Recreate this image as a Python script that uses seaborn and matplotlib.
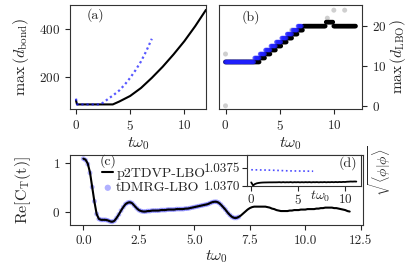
import numpy as np
import pandas as pd
import matplotlib
matplotlib.use("Agg")
import matplotlib.pyplot as plt
import seaborn as sns
from matplotlib.ticker import FormatStrFormatter

# ---------------- data ----------------
# (a) max bond dimension
t_a_p2 = [0.0, 0.1, 1.0, 2.0, 3.0, 3.4, 4.0, 5.0, 6.0, 7.0, 8.0, 9.0, 10.0, 11.0, 12.0]
dbond_p2 = [105, 88, 88, 88, 88, 88, 100, 123, 156, 198, 244, 295, 350, 412, 480]
t_a_td = [0.0, 0.1, 1.0, 2.0, 2.2, 2.5, 3.0, 3.5, 4.0, 4.5, 5.0, 5.5, 6.0, 6.5, 7.0]
dbond_td = [112, 88, 88, 88, 89, 95, 112, 128, 146, 170, 198, 230, 266, 310, 360]

# (b) max LBO dimension: step change times and levels
lbo_td_t = [0.0, 2.7, 3.2, 3.7, 4.2, 4.7, 5.2, 5.7, 6.2, 6.7]
lbo_td_v = [11, 12, 13, 14, 15, 16, 17, 18, 19, 20]
lbo_td_end = 7.0
lbo_p2_t = [0.0, 3.2, 3.7, 4.2, 4.7, 5.2, 5.7, 6.2, 6.7, 7.2, 9.3, 9.95]
lbo_p2_v = [11, 12, 13, 14, 15, 16, 17, 18, 19, 20, 21, 20]
lbo_p2_end = 12.0
gray_t = [0.0, 0.0, 6.1, 9.4, 10.0, 11.0]
gray_v = [13, 0, 19, 22, 24, 24]

# (c) Re[C_T(t)], sampled every 0.1
ct_p2 = [1.08, 1.06, 0.98, 0.80, 0.50, 0.20, -0.05, -0.15, -0.17, -0.17,
         -0.17, -0.18, -0.20, -0.21, -0.19, -0.13, -0.06, 0.02, 0.09, 0.15,
         0.18, 0.19, 0.17, 0.12, 0.07, 0.03, 0.01, 0.00, 0.00, 0.01,
         0.01, 0.02, 0.02, 0.02, 0.02, 0.03, 0.03, 0.03, 0.04, 0.04,
         0.04, 0.04, 0.05, 0.05, 0.05, 0.05, 0.06, 0.06, 0.07, 0.08,
         0.09, 0.10, 0.11, 0.12, 0.13, 0.14, 0.15, 0.17, 0.19, 0.20,
         0.20, 0.18, 0.14, 0.09, 0.04, -0.02, -0.07, -0.11, -0.13, -0.13,
         -0.11, -0.08, -0.04, 0.00, 0.04, 0.07, 0.09, 0.10, 0.10, 0.10,
         0.10, 0.10, 0.10, 0.09, 0.08, 0.06, 0.05, 0.03, 0.02, 0.01,
         0.01, 0.01, 0.01, 0.02, 0.02, 0.03, 0.03, 0.03, 0.04, 0.04,
         0.04, 0.05, 0.05, 0.05, 0.05, 0.06, 0.06, 0.07, 0.07, 0.08,
         0.08, 0.08, 0.08, 0.07, 0.07, 0.06, 0.05, 0.04, 0.03, 0.01,
         0.00]
ct_td = [1.08, 1.05, 0.97, 0.79, 0.50, 0.21, -0.05, -0.15, -0.17, -0.17,
         -0.17, -0.18, -0.20, -0.21, -0.19, -0.13, -0.06, 0.02, 0.09, 0.15,
         0.18, 0.19, 0.17, 0.12, 0.07, 0.03, 0.01, 0.00, 0.00, 0.01,
         0.01, 0.02, 0.02, 0.02, 0.02, 0.03, 0.03, 0.03, 0.04, 0.04,
         0.04, 0.04, 0.05, 0.05, 0.05, 0.05, 0.06, 0.06, 0.07, 0.08,
         0.09, 0.10, 0.11, 0.12, 0.13, 0.14, 0.15, 0.17, 0.19, 0.20,
         0.20, 0.18, 0.14, 0.09, 0.04, -0.02, -0.07, -0.11, -0.13, -0.13,
         -0.11]

# (d) norm, in 1e-6 above 1.037, sampled every 0.2
norm_p2_micro = [90, 5, 45, 65, 75, 82, 86, 88, 89, 90, 91, 91, 92, 92, 93,
                 96, 90, 97, 91, 95, 92, 98, 90, 96, 93, 97, 91, 96, 92, 97,
                 93, 98, 91, 97, 94, 98, 92, 97, 94, 99, 93, 98, 95, 100, 95,
                 101, 96, 102, 98, 104, 101, 108, 110, 114, 112, 115, 113]
norm_td_t = [0.0, 2.0, 4.0, 6.6]
norm_td = [1.03744, 1.03743, 1.03741, 1.03740]

# ---------------- style ----------------
sns.set_style("ticks")
plt.rcParams.update({
    "font.family": "serif",
    "font.serif": ["cmr10", "DejaVu Serif"],
    "mathtext.fontset": "cm",
    "axes.formatter.use_mathtext": True,
    "axes.unicode_minus": False,
    "font.size": 9,
    "axes.labelsize": 11.5,
    "axes.linewidth": 0.8,
    "axes.edgecolor": "#333333",
    "xtick.major.size": 3.5,
    "ytick.major.size": 3.5,
    "xtick.major.width": 0.8,
    "ytick.major.width": 0.8,
    "xtick.labelsize": 9.5,
    "ytick.labelsize": 9.5,
})

fig = plt.figure(figsize=(4.11, 2.65), dpi=100)
W, H = 411, 265
def rect(l, t, r, b):
    return [l / W, 1 - b / H, (r - l) / W, (b - t) / H]

axa = fig.add_axes(rect(70, 5, 206, 109))
axb = fig.add_axes(rect(219, 5, 362, 109))
axc = fig.add_axes(rect(70, 155, 363, 225))
axd = fig.add_axes(rect(247, 155, 361, 186))

blue = "#2020ff"

# (a)
sns.lineplot(x=t_a_p2, y=dbond_p2, ax=axa, color="black", lw=1.5)
sns.lineplot(x=t_a_td, y=dbond_td, ax=axa, color=blue, alpha=0.75, lw=1.6,
             linestyle=(0, (1, 1.3)))
axa.set_xlim(-0.55, 12.0)
axa.set_ylim(69, 500)
axa.set_xticks([0, 5, 10])
axa.set_yticks([200, 400])
axa.set_xlabel(r"$t\omega_0$", labelpad=2)
axa.set_ylabel(r"$\max\,(d_{\rm bond})$", labelpad=6)
axa.text(0.19, 0.90, "(a)", transform=axa.transAxes, ha="center", va="center", fontsize=10)

# (b) expand step levels onto a 0.1 time grid
def steps(tchg, vals, tend):
    tt = np.round(np.arange(0, tend + 1e-9, 0.1), 2)
    idx = np.searchsorted(np.array(tchg), tt, side="right") - 1
    return tt, np.array(vals)[idx]

tb_p2, vb_p2 = steps(lbo_p2_t, lbo_p2_v, lbo_p2_end)
tb_td, vb_td = steps(lbo_td_t, lbo_td_v, lbo_td_end)
sns.scatterplot(x=gray_t, y=gray_v, ax=axb, color="#c4c4c4", s=13, edgecolor="none", alpha=0.8)
sns.scatterplot(x=tb_p2, y=vb_p2, ax=axb, color="black", s=11, edgecolor="none")
sns.scatterplot(x=tb_td, y=vb_td, ax=axb, color=blue, alpha=0.7, s=11, edgecolor="none")
axb.set_xlim(-0.6, 12.6)
axb.set_ylim(-0.8, 25.3)
axb.set_xticks([0, 5, 10])
axb.set_yticks([0, 10, 20])
axb.yaxis.tick_right()
axb.yaxis.set_label_position("right")
axb.set_xlabel(r"$t\omega_0$", labelpad=2)
axb.set_ylabel(r"$\max\,(d_{\rm LBO})$", labelpad=1, fontsize=11)
axb.text(0.22, 0.885, "(b)", transform=axb.transAxes, ha="center", va="center", fontsize=10)

# (c)
tc_p2 = np.round(np.arange(len(ct_p2)) * 0.1, 2)
tc_td = np.round(np.arange(len(ct_td)) * 0.1, 2)
sns.lineplot(x=tc_p2, y=ct_p2, ax=axc, color="black", lw=1.5, label="p2TDVP-LBO")
sns.scatterplot(x=tc_td, y=ct_td, ax=axc, color=blue, alpha=0.35, s=12,
                edgecolor="none", label="tDMRG-LBO")
axc.set_xlim(-0.6, 12.6)
axc.set_ylim(-0.275, 1.155)
axc.set_xticks([0, 2.5, 5, 7.5, 10, 12.5])
axc.xaxis.set_major_formatter(FormatStrFormatter("%.1f"))
axc.set_yticks([0, 1])
axc.set_xlabel(r"$t\omega_0$", labelpad=1)
axc.set_ylabel(r"Re[C$_{\rm T}$(t)]", labelpad=14)
axc.text(0.13, 0.91, "(c)", transform=axc.transAxes, ha="center", va="center", fontsize=10)
axc.legend(loc="upper left", bbox_to_anchor=(0.11, 0.83), frameon=False,
           fontsize=10, handlelength=0.8, handletextpad=0.2, labelspacing=0.15,
           borderpad=0, borderaxespad=0, markerscale=1.3)

# (d) inset
td_ = np.round(np.arange(len(norm_p2_micro)) * 0.2, 2)
nd = 1.037 + np.array(norm_p2_micro) * 1e-6
sns.lineplot(x=td_, y=nd, ax=axd, color="black", lw=1.3)
sns.lineplot(x=norm_td_t, y=norm_td, ax=axd, color=blue, alpha=0.8, lw=1.2,
             linestyle=(0, (1, 1.6)))
axd.set_xlim(-0.45, 11.7)
axd.set_ylim(1.03699, 1.03785)
axd.set_xticks([0, 5, 10])
axd.set_yticks([1.0370, 1.0375])
axd.yaxis.set_major_formatter(FormatStrFormatter("%.4f"))
axd.tick_params(axis="both", pad=1.5)
axd.yaxis.set_label_position("right")
axd.set_ylabel(r"$\sqrt{\langle\phi|\phi\rangle}$", labelpad=4, fontsize=10)
axd.text(0.64, -0.33, r"$t\omega_0$", transform=axd.transAxes, ha="center", va="center", fontsize=10)
axd.text(0.886, 0.74, "(d)", transform=axd.transAxes, ha="center", va="center", fontsize=10)
axd.set_facecolor("white")

fig.savefig("out.png", dpi=100)
